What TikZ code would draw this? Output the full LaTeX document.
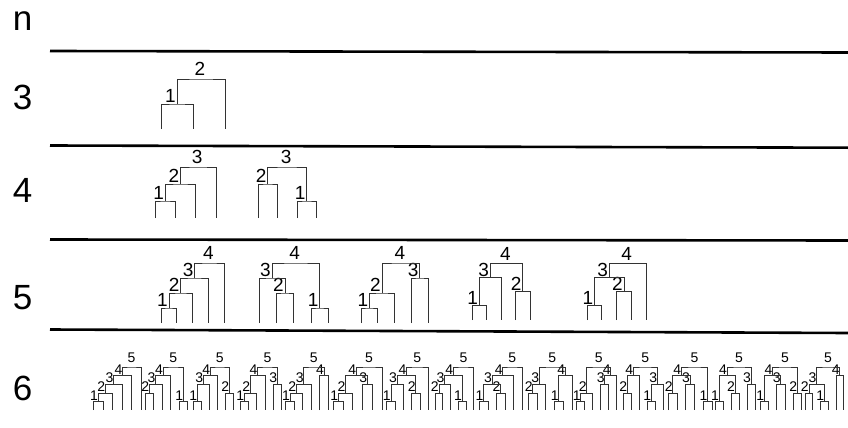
\documentclass[tikz,border=0pt]{standalone}
\usepackage{fontspec}
\setmainfont{Liberation Sans}
\usetikzlibrary{calc}

\tikzset{
  branch/.style={draw=black!80, line width=0.7pt},
  rk/.style={inner sep=0pt, anchor=south, font=\fontsize{19}{19}\selectfont},
  rank/.style={rk, xshift=-6.5pt, yshift=1pt},
  toprank/.style={rk, xshift=-1pt, yshift=3pt},
  sep/.style={line width=2.6pt},
  rowlabel/.style={inner sep=0pt, font=\fontsize{35}{35}\selectfont}
}

% leaves of one tree: id, first x, spacing, names
\newcommand{\leafrow}[4]{%
  \def\tid{#1}%
  \foreach \lf [count=\i from 0] in {#4}
    \coordinate (#1-\lf) at ({#2+\i*#3},\ybase);
}
% merge two lineages at rank #2
\newcommand{\mergenode}[4][rank]{%
  \pgfmathsetmacro\yk{\ybase-#2*\ystep}
  \coordinate (\tid-m) at ($(\tid-#3)!0.5!(\tid-#4)$);
  \coordinate (\tid-#2) at (\tid-m |- 0,\yk);
  \draw[branch] (\tid-#3) |- (\tid-#2) -| (\tid-#4);
  \node[#1] (\tid-l#2) at (\tid-#2) {#2};
}

\begin{document}
\begin{tikzpicture}[x=1pt,y=-1pt]
  \useasboundingbox (0,0) rectangle (848,428);
  % Row labels
  \node[rowlabel] (lbl-n) at (22.5,21) {n};
  \node[rowlabel] (lbl-3) at (22.7,97) {3};
  \node[rowlabel] (lbl-4) at (22.7,190) {4};
  \node[rowlabel] (lbl-5) at (22.7,298) {5};
  \node[rowlabel] (lbl-6) at (22.7,388) {6};
  % Separators
  \draw[sep] (50,51) -- (848,52.5);
  \draw[sep] (50,145.5) -- (848,147.7);
  \draw[sep] (50,239.5) -- (848,240.5);
  \draw[sep] (50,329.5) -- (848,333);

  % n = 3
  \begin{scope}
    \def\ybase{129}\def\ystep{25}
    \leafrow{t3}{161}{32}{a,b,c}
    \mergenode{1}{a}{b}
    \mergenode[toprank]{2}{1}{c}
  \end{scope}

  % n = 4
  \begin{scope}
    \def\ybase{218}\def\ystep{17}
    \leafrow{t4a}{155}{20.3}{a,b,c,d}
    \mergenode{1}{a}{b}
    \mergenode{2}{1}{c}
    \mergenode[toprank]{3}{2}{d}
    \leafrow{t4b}{258}{19.5}{a,b,c,d}
    \mergenode{2}{a}{b}
    \mergenode{1}{c}{d}
    \mergenode[toprank]{3}{2}{1}
  \end{scope}

  % n = 5
  \begin{scope}
    \def\ybase{323}\def\ystep{15}
    \leafrow{t5a}{161}{15.8}{a,b,c,d,e}
    \mergenode{1}{a}{b}
    \mergenode{2}{1}{c}
    \mergenode{3}{2}{d}
    \mergenode[toprank]{4}{3}{e}
    \leafrow{t5b}{259}{17.3}{a,b,c,d,e}
    \mergenode{2}{b}{c}
    \mergenode{3}{a}{2}
    \mergenode{1}{d}{e}
    \mergenode[toprank]{4}{3}{1}
    \leafrow{t5c}{361}{16.75}{a,b,c,d,e}
    \mergenode{1}{a}{b}
    \mergenode{2}{1}{c}
    \mergenode{3}{d}{e}
    \mergenode[toprank]{4}{2}{3}
  \end{scope}
  \begin{scope}
    \def\ybase{320}\def\ystep{14.2}
    \leafrow{t5d}{472}{14.5}{a,b,c,d,e}
    \mergenode{1}{a}{b}
    \mergenode{3}{1}{c}
    \mergenode{2}{d}{e}
    \mergenode[toprank]{4}{3}{2}
    \leafrow{t5e}{587}{14.75}{a,b,c,d,e}
    \mergenode{1}{a}{b}
    \mergenode{2}{c}{d}
    \mergenode{3}{1}{2}
    \mergenode[toprank]{4}{3}{e}
  \end{scope}

  % n = 6
  \begin{scope}[
      branch/.style={draw=black!80, line width=0.6pt},
      rk/.style={inner sep=0pt, anchor=south, font=\fontsize{14}{14}\selectfont},
      rank/.style={rk, xshift=-4pt, yshift=1pt},
      toprank/.style={rk, yshift=4pt}]
    \def\ybase{410}\def\ystep{8.6}
    \leafrow{t6a}{93.3}{9.5}{a,b,c,d,e,f}
    \mergenode{1}{a}{b}\mergenode{2}{1}{c}\mergenode{3}{2}{d}
    \mergenode{4}{3}{e}\mergenode[toprank]{5}{4}{f}
    \leafrow{t6b}{145}{8.5}{a,b,c,d,e,f}
    \mergenode{2}{a}{b}\mergenode{3}{2}{c}\mergenode{4}{3}{d}
    \mergenode{1}{e}{f}\mergenode[toprank]{5}{4}{1}
    \leafrow{t6c}{193.3}{8}{a,b,c,d,e,f}
    \mergenode{1}{a}{b}\mergenode{3}{1}{c}\mergenode{4}{3}{d}
    \mergenode{2}{e}{f}\mergenode[toprank]{5}{4}{2}
    \leafrow{t6d}{240}{8.3}{a,b,c,d,e,f}
    \mergenode{1}{a}{b}\mergenode{2}{1}{c}\mergenode{4}{2}{d}
    \mergenode{3}{e}{f}\mergenode[toprank]{5}{4}{3}
    \leafrow{t6e}{285.7}{8.5}{a,b,c,d,e,f}
    \mergenode{1}{a}{b}\mergenode{2}{1}{c}\mergenode{3}{2}{d}
    \mergenode{4}{e}{f}\mergenode[toprank]{5}{3}{4}
    \leafrow{t6f}{333.3}{9.7}{a,b,c,d,e,f}
    \mergenode{1}{a}{b}\mergenode{2}{1}{c}\mergenode{3}{d}{e}
    \mergenode{4}{2}{3}\mergenode[toprank]{5}{4}{f}
    \leafrow{t6g}{386.7}{8.3}{a,b,c,d,e,f}
    \mergenode{1}{a}{b}\mergenode{3}{1}{c}\mergenode{2}{d}{e}
    \mergenode{4}{3}{2}\mergenode[toprank]{5}{4}{f}
    \leafrow{t6h}{435}{7.7}{a,b,c,d,e,f}
    \mergenode{2}{a}{b}\mergenode{3}{2}{c}\mergenode{1}{d}{e}
    \mergenode{4}{3}{1}\mergenode[toprank]{5}{4}{f}
    \leafrow{t6i}{479.3}{8.5}{a,b,c,d,e,f}
    \mergenode{1}{a}{b}\mergenode{2}{c}{d}\mergenode{3}{1}{2}
    \mergenode{4}{3}{e}\mergenode[toprank]{5}{4}{f}
    \leafrow{t6j}{528.3}{8.7}{a,b,c,d,e,f}
    \mergenode{2}{a}{b}\mergenode{3}{2}{c}\mergenode{1}{d}{e}
    \mergenode{4}{1}{f}\mergenode[toprank]{5}{3}{4}
    \leafrow{t6k}{576.7}{8}{a,b,c,d,e,f}
    \mergenode{1}{a}{b}\mergenode{2}{1}{c}\mergenode{3}{d}{e}
    \mergenode{4}{3}{f}\mergenode[toprank]{5}{2}{4}
    \leafrow{t6l}{623.3}{8}{a,b,c,d,e,f}
    \mergenode{2}{a}{b}\mergenode{4}{2}{c}\mergenode{1}{d}{e}
    \mergenode{3}{1}{f}\mergenode[toprank]{5}{4}{3}
    \leafrow{t6m}{668.3}{8.7}{a,b,c,d,e,f}
    \mergenode{2}{a}{b}\mergenode{3}{c}{d}\mergenode{4}{2}{3}
    \mergenode{1}{e}{f}\mergenode[toprank]{5}{4}{1}
    \leafrow{t6n}{715}{8}{a,b,c,d,e,f}
    \mergenode{1}{a}{b}\mergenode{2}{c}{d}\mergenode{4}{1}{2}
    \mergenode{3}{e}{f}\mergenode[toprank]{5}{4}{3}
    \leafrow{t6o}{760}{8.3}{a,b,c,d,e,f}
    \mergenode{1}{a}{b}\mergenode{3}{c}{d}\mergenode{4}{1}{3}
    \mergenode{2}{e}{f}\mergenode[toprank]{5}{4}{2}
    \leafrow{t6p}{805}{7.7}{a,b,c,d,e,f}
    \mergenode{2}{a}{b}\mergenode{1}{c}{d}\mergenode{3}{2}{1}
    \mergenode{4}{e}{f}\mergenode[toprank]{5}{3}{4}
  \end{scope}
\end{tikzpicture}
\end{document}
